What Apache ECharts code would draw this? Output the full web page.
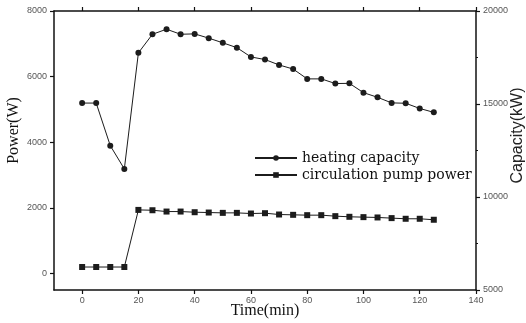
<!DOCTYPE html>
<html>
<head>
<meta charset="utf-8">
<script src="https://cdn.jsdelivr.net/npm/echarts@6/dist/echarts.min.js"></script>
<style>
  html, body { margin: 0; padding: 0; background: #fff; }
  #container { width: 526px; height: 323px; }
</style>
</head>
<body>
<div id="container"></div>
<script>
// time (min)
var times = [0, 5, 10, 15, 20, 25, 30, 35, 40, 45, 50, 55, 60, 65, 70, 75, 80, 85, 90, 95, 100, 105, 110, 115, 120, 125];
// heating capacity, right axis (kW)
var heating = [15050, 15050, 12760, 11510, 17750, 18750, 19020, 18750, 18770, 18540, 18290, 18030, 17530, 17390,
  17100, 16880, 16350, 16350, 16100, 16110, 15610, 15360, 15060, 15040, 14760, 14550];
// circulation pump power, left axis (W)
var pump = [200, 200, 200, 200, 1940, 1930, 1890, 1890, 1870, 1860, 1850, 1850, 1830, 1840,
  1800, 1790, 1780, 1780, 1750, 1730, 1720, 1710, 1690, 1670, 1670, 1640];

var xTicks = [0, 20, 40, 60, 80, 100, 120, 140];
var yTicks = [0, 2000, 4000, 6000, 8000];

function pairs(xs, ys) {
  var out = [];
  for (var i = 0; i < xs.length; i++) out.push([xs[i], ys[i]]);
  return out;
}

var lineCol = '#1c1c1c';
var frame = { show: true, onZero: false, lineStyle: { color: '#111', width: 1.5 } };
var tickLine = { color: '#111', width: 1.2 };
var labelStyle = {
  fontSize: 9, color: '#555', fontFamily: 'Liberation Sans',
  formatter: function (v) { return String(v); }
};

// frame side with outward ticks (inward ones would not draw at the grid edge)
function sideAxis(pos, min, max, ticks, withLabel, margin) {
  return {
    type: 'value', position: pos, min: min, max: max,
    axisLine: frame,
    axisTick: { show: true, inside: false, length: 4, customValues: ticks, lineStyle: tickLine },
    axisLabel: withLabel ? Object.assign({ customValues: ticks, margin: margin }, labelStyle) : { show: false },
    splitLine: { show: false }
  };
}

var chart = echarts.init(document.getElementById('container'));
var option = {
  backgroundColor: '#fff',
  animation: false,
  grid: { show: false, left: 54, right: 50, top: 11, bottom: 33, outerBoundsMode: 'none' },
  legend: {
    left: 249, top: 146, orient: 'vertical',
    itemWidth: 42, itemHeight: 7, itemGap: 3,
    textStyle: { fontFamily: 'DejaVu Serif', fontSize: 14, color: '#111' },
    data: ['heating capacity', 'circulation pump power']
  },
  xAxis: [
    Object.assign(sideAxis('bottom', -10, 140, xTicks, true, 6), {
      name: 'Time(min)', nameLocation: 'middle', nameGap: 13, nameMoveOverlap: false,
      nameTextStyle: { fontFamily: 'Liberation Serif', fontSize: 16, color: '#111', verticalAlign: 'top' }
    }),
    sideAxis('top', -10, 140, xTicks, false, 0)
  ],
  yAxis: [
    Object.assign(sideAxis('left', -500, 8000, yTicks, true, 7), {
      name: 'Power(W)', nameLocation: 'middle', nameGap: 32, nameRotate: 90, nameMoveOverlap: false,
      nameTextStyle: { fontFamily: 'Liberation Serif', fontSize: 16, color: '#111', padding: [0, 0, 0, 40] }
    }),
    {
      type: 'value', position: 'right', min: 5000, max: 20000, interval: 5000,
      name: 'Capacity(kW)', nameLocation: 'middle', nameGap: 34, nameRotate: 90, nameMoveOverlap: false,
      nameTextStyle: { fontFamily: 'Liberation Sans', fontSize: 16, color: '#222', padding: [0, 0, 0, 30] },
      axisLine: frame,
      axisTick: { show: true, inside: false, length: 4, lineStyle: tickLine },
      minorTick: { show: true, splitNumber: 2, length: 2, lineStyle: tickLine },
      axisLabel: Object.assign({ margin: 7 }, labelStyle),
      splitLine: { show: false }
    }
  ],
  series: [
    {
      name: 'heating capacity', type: 'line', xAxisIndex: 0, yAxisIndex: 1,
      data: pairs(times, heating),
      symbol: 'circle', symbolSize: 6,
      lineStyle: { color: lineCol, width: 1 },
      itemStyle: { color: lineCol }
    },
    {
      name: 'circulation pump power', type: 'line', xAxisIndex: 0, yAxisIndex: 0,
      data: pairs(times, pump),
      symbol: 'rect', symbolSize: 6,
      lineStyle: { color: lineCol, width: 1 },
      itemStyle: { color: lineCol }
    }
  ]
};
chart.setOption(option);
</script>
</body>
</html>
